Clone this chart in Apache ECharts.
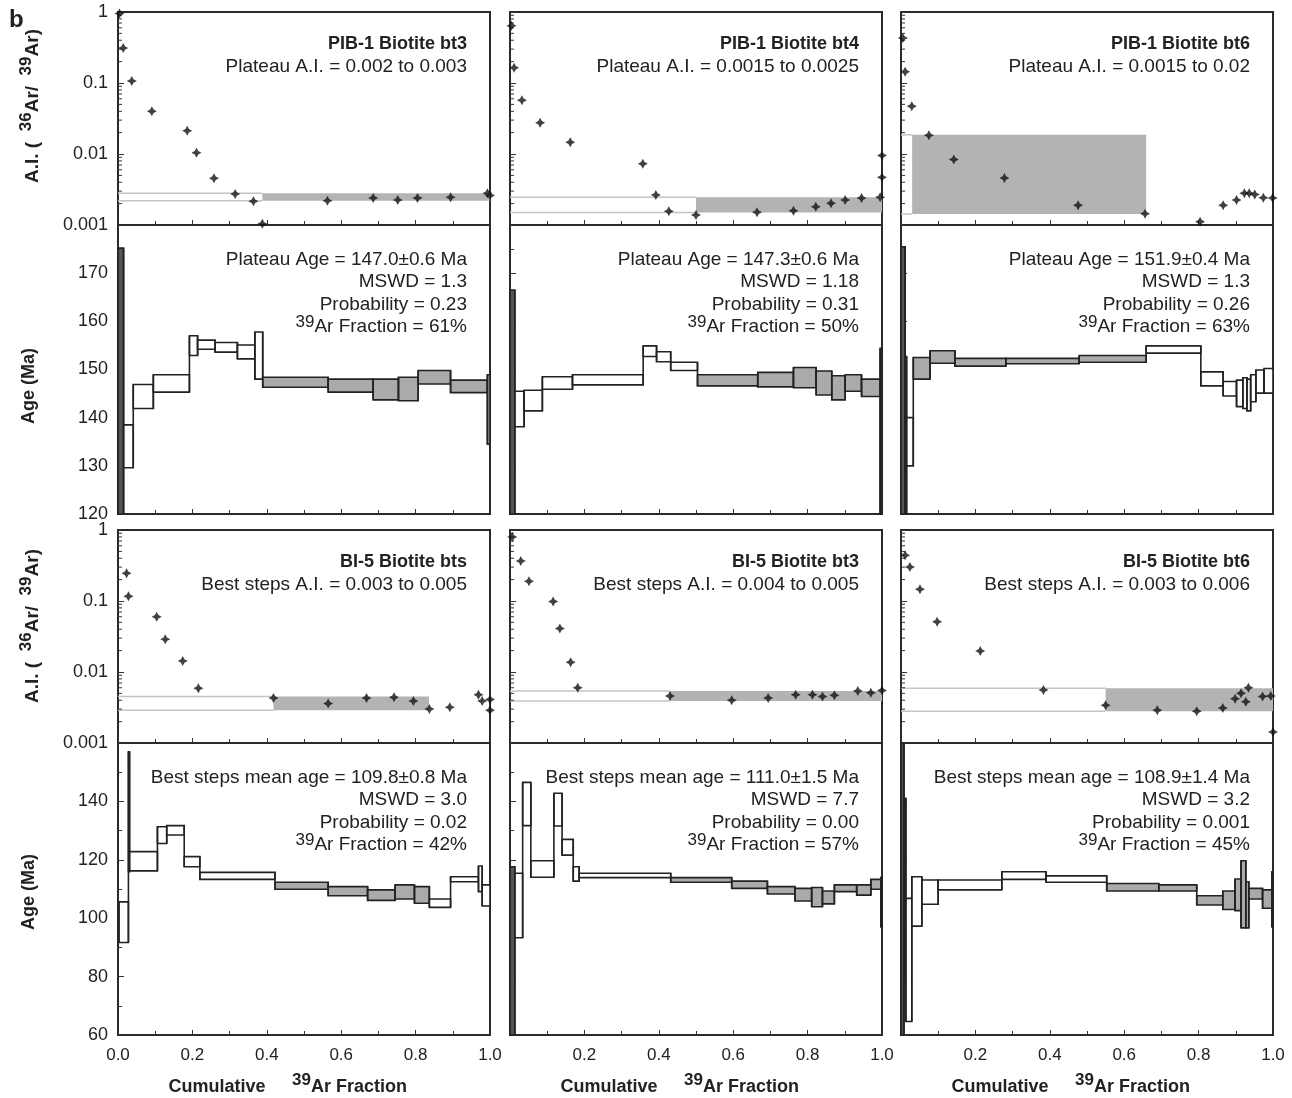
<!DOCTYPE html>
<html><head><meta charset="utf-8">
<script src="https://cdn.jsdelivr.net/npm/echarts@6/dist/echarts.min.js"></script>
<style>html,body{margin:0;padding:0;background:#fff}#c{width:1292px;height:1098px}</style>
</head><body><div id="c"></div>
<script>
// ---------- DATA ----------
const xTicks = [0, 0.2, 0.4, 0.6, 0.8, 1.0];
const aiTicks = [0.001, 0.01, 0.1, 1];
const ageTicksPIB = [120, 130, 140, 150, 160, 170, 180];
const ageTicksBI5 = [60, 80, 100, 120, 140, 160];

// A.I. scatter points [cumulative 39Ar fraction, 36Ar/39Ar]
const aiPIB_bt3 = [[0.004,0.95],[0.014,0.31],[0.037,0.107],[0.091,0.040],[0.186,0.0213],[0.211,0.0104],[0.258,0.00455],[0.315,0.00274],[0.364,0.00216],[0.388,0.00104],[0.563,0.0022],[0.686,0.0024],[0.752,0.00225],[0.805,0.0024],[0.894,0.00245],[0.993,0.0028],[1.0,0.0026]];
const aiPIB_bt4 = [[0.004,0.64],[0.011,0.164],[0.032,0.057],[0.081,0.0276],[0.162,0.0146],[0.357,0.0073],[0.392,0.00265],[0.427,0.00156],[0.5,0.00138],[0.664,0.00151],[0.762,0.00159],[0.822,0.00181],[0.863,0.00202],[0.901,0.00225],[0.945,0.0024],[0.995,0.00245],[1.0,0.0047],[1.0,0.0095]];
const aiPIB_bt6 = [[0.005,0.43],[0.011,0.144],[0.029,0.047],[0.075,0.0183],[0.142,0.0084],[0.278,0.0046],[0.476,0.0019],[0.656,0.00144],[0.804,0.00111],[0.866,0.0019],[0.902,0.00225],[0.923,0.0028],[0.936,0.0028],[0.951,0.00268],[0.974,0.00242],[0.999,0.0024]];
const aiBI5_bts = [[0.023,0.245],[0.028,0.117],[0.104,0.060],[0.127,0.029],[0.174,0.0143],[0.216,0.0059],[0.418,0.0043],[0.565,0.0036],[0.668,0.0043],[0.742,0.0044],[0.794,0.0039],[0.837,0.0030],[0.892,0.0032],[0.969,0.0048],[0.979,0.0039],[1.0,0.0041],[1.0,0.0029]];
const aiBI5_bt3 = [[0.006,0.8],[0.029,0.366],[0.051,0.19],[0.116,0.098],[0.134,0.041],[0.163,0.0137],[0.182,0.006],[0.43,0.0046],[0.596,0.0040],[0.694,0.0043],[0.768,0.0048],[0.813,0.0048],[0.84,0.0045],[0.872,0.0047],[0.935,0.0054],[0.97,0.0051],[1.0,0.0055]];
const aiBI5_bt6 = [[0.011,0.44],[0.024,0.30],[0.051,0.146],[0.097,0.051],[0.213,0.0198],[0.383,0.0056],[0.55,0.0034],[0.689,0.0029],[0.795,0.0028],[0.865,0.0031],[0.898,0.0042],[0.914,0.005],[0.927,0.0038],[0.934,0.006],[0.972,0.0045],[0.994,0.0046],[1.0,0.00143]];

// plateau / best-step A.I. band [x start, x end, A.I. low, A.I. high]
const bandPIB_bt3 = [0.388, 1.0, 0.0022, 0.0028];
const bandPIB_bt4 = [0.5, 1.0, 0.0015, 0.00245];
const bandPIB_bt6 = [0.03, 0.659, 0.00143, 0.0186];
const bandBI5_bts = [0.418, 0.836, 0.0029, 0.0045];
const bandBI5_bt3 = [0.43, 1.0, 0.0039, 0.0054];
const bandBI5_bt6 = [0.55, 1.0, 0.0028, 0.0059];

// age spectrum steps [x start, x end, age low, age high, kind(0 open,1 plateau,2 dark)]
const agePIB_bt3 = [[0,0.015,100,175.2,2],[0.015,0.041,129.6,138.5,0],[0.041,0.095,141.9,146.9,0],[0.095,0.192,145.3,148.9,0],[0.192,0.214,152.9,157.0,0],[0.214,0.261,154.2,156.1,0],[0.261,0.321,153.6,155.6,0],[0.321,0.368,152.2,155.1,0],[0.368,0.389,148.0,157.8,0],[0.389,0.565,146.3,148.4,1],[0.565,0.686,145.3,148.0,1],[0.686,0.754,143.7,148.0,1],[0.754,0.807,143.5,148.4,1],[0.807,0.894,147.0,149.8,1],[0.894,0.993,145.2,147.8,1],[0.993,1.0,134.5,148.9,1]];
const agePIB_bt4 = [[0,0.013,100,166.5,2],[0.013,0.038,138.1,145.5,0],[0.038,0.087,141.4,145.7,0],[0.087,0.168,145.9,148.5,0],[0.168,0.358,146.8,148.9,0],[0.358,0.394,152.7,154.9,0],[0.394,0.432,151.6,153.7,0],[0.432,0.504,149.8,151.5,0],[0.504,0.666,146.6,148.9,1],[0.666,0.762,146.4,149.4,1],[0.762,0.823,146.2,150.4,1],[0.823,0.865,144.7,149.7,1],[0.865,0.901,143.7,148.7,1],[0.901,0.945,145.5,148.9,1],[0.945,0.995,144.4,148.0,1],[0.995,1.0,100,154.4,2]];
const agePIB_bt6 = [[0,0.011,100,175.5,2],[0.011,0.015,100,152.7,2],[0.015,0.033,130.0,140.0,0],[0.033,0.078,148.0,152.5,1],[0.078,0.145,151.3,153.9,1],[0.145,0.282,150.7,152.3,1],[0.282,0.479,151.2,152.3,1],[0.479,0.659,151.5,152.9,1],[0.659,0.806,153.4,154.9,0],[0.806,0.866,146.6,149.5,0],[0.866,0.902,144.5,147.5,0],[0.902,0.919,142.3,147.8,0],[0.919,0.930,141.9,148.3,0],[0.930,0.940,141.4,148.0,0],[0.940,0.954,143.3,148.9,0],[0.954,0.976,145.1,149.9,0],[0.976,1.0,145.1,150.2,0]];
const ageBI5_bts = [[0.003,0.028,91.7,105.6,0],[0.028,0.031,115.9,157.0,2],[0.031,0.106,116.2,122.8,0],[0.106,0.131,125.6,131.3,0],[0.131,0.178,128.5,131.7,0],[0.178,0.220,117.6,121.1,0],[0.220,0.422,113.3,115.7,0],[0.422,0.565,109.9,112.3,1],[0.565,0.671,107.7,110.8,1],[0.671,0.745,106.1,109.7,1],[0.745,0.797,106.6,111.4,1],[0.797,0.837,105.1,110.8,1],[0.837,0.894,103.7,106.6,0],[0.894,0.969,112.5,114.2,0],[0.969,0.979,109.1,117.9,0],[0.979,1.0,104.2,111.4,0]];
const ageBI5_bt3 = [[0,0.013,50,117.6,2],[0.013,0.034,93.3,115.4,0],[0.034,0.056,131.7,146.5,0],[0.056,0.118,114.0,119.7,0],[0.118,0.140,131.6,142.8,0],[0.140,0.170,121.6,127.0,0],[0.170,0.186,112.7,117.6,0],[0.186,0.432,113.9,115.4,0],[0.432,0.596,112.3,113.9,1],[0.596,0.692,110.2,112.7,1],[0.692,0.766,108.3,110.8,1],[0.766,0.811,105.9,110.2,1],[0.811,0.840,103.9,110.5,1],[0.840,0.872,104.9,109.3,1],[0.872,0.932,109.1,111.4,1],[0.932,0.970,107.9,111.4,1],[0.970,0.997,109.9,113.3,1],[0.997,1.0,97,114,1]];
const ageBI5_bt6 = [[0,0.008,50,170,2],[0.008,0.013,78.8,141.1,2],[0.013,0.029,64.6,106.8,0],[0.029,0.056,97.3,114.2,0],[0.056,0.100,104.8,113.1,0],[0.100,0.271,109.7,113.1,0],[0.271,0.390,113.3,115.9,0],[0.390,0.553,112.3,114.5,0],[0.553,0.693,109.3,111.9,1],[0.693,0.795,109.3,111.4,1],[0.795,0.865,104.5,107.7,1],[0.865,0.898,103.0,109.3,1],[0.898,0.914,102.6,113.4,1],[0.914,0.927,96.7,119.7,1],[0.927,0.935,96.7,112.5,1],[0.935,0.972,106.6,110.2,1],[0.972,0.997,103.4,109.7,1],[0.997,1.0,97.0,115.9,2]];

// texts
const titles = ['PIB-1 Biotite bt3','PIB-1 Biotite bt4','PIB-1 Biotite bt6','BI-5 Biotite bts','BI-5 Biotite bt3','BI-5 Biotite bt6'];
const aiTexts = ['Plateau A.I. = 0.002 to 0.003','Plateau A.I. = 0.0015 to 0.0025','Plateau A.I. = 0.0015 to 0.02','Best steps A.I. = 0.003 to 0.005','Best steps A.I. = 0.004 to 0.005','Best steps A.I. = 0.003 to 0.006'];
const ageTexts = ['Plateau Age = 147.0±0.6 Ma','Plateau Age = 147.3±0.6 Ma','Plateau Age = 151.9±0.4 Ma','Best steps mean age = 109.8±0.8 Ma','Best steps mean age = 111.0±1.5 Ma','Best steps mean age = 108.9±1.4 Ma'];
const mswdTexts = ['1.3','1.18','1.3','3.0','7.7','3.2'];
const probTexts = ['0.23','0.31','0.26','0.02','0.00','0.001'];
const fracTexts = ['61%','50%','63%','42%','57%','45%'];

const aiSets = [aiPIB_bt3, aiPIB_bt4, aiPIB_bt6, aiBI5_bts, aiBI5_bt3, aiBI5_bt6];
const bandSets = [bandPIB_bt3, bandPIB_bt4, bandPIB_bt6, bandBI5_bts, bandBI5_bt3, bandBI5_bt6];
const ageSets = [agePIB_bt3, agePIB_bt4, agePIB_bt6, ageBI5_bts, ageBI5_bt3, ageBI5_bt6];

// ---------- LAYOUT ----------
const FONT = '"Liberation Sans", Arial, Helvetica, sans-serif';
const colLeft = [118, 510, 901];
const W = 372;
const rowsAI = [{top: 12, h: 213, tc: 106}, {top: 530, h: 213, tc: 626}];
const rowsAge = [{top: 225, h: 289, tc: 386}, {top: 743, h: 292, tc: 892}];
const FILL = ['#ffffff', '#aaaaaa', '#555555'];
const TXT = '#222';

const minorLog = [];
[0.001, 0.01, 0.1].forEach(d => { for (let k = 2; k <= 9; k++) minorLog.push([0, +(k * d).toPrecision(3)]); });

const mctx = document.createElement('canvas').getContext('2d');
function mw(t, f) { mctx.font = f; return mctx.measureText(t).width; }
// parts: [[text, isSup], ...] -> positioned pieces
function supLayout(parts, fontN, fontS, raise) {
  let x = 0; const items = [];
  parts.forEach(p => { const f = p[1] ? fontS : fontN; items.push({t: p[0], f: f, x: x, dy: p[1] ? -raise : 0}); x += mw(p[0], f); });
  return {items: items, width: x};
}
function textEl(x, y, t, f, align) {
  return {type: 'text', x: x, y: y, z: 100, style: {text: t, font: f, fill: TXT, textAlign: align, align: align, textVerticalAlign: 'middle', verticalAlign: 'middle'}};
}

function makeStepRender(arr) {
  return function (params, api) {
    const cs = params.coordSys;
    const box = {x: cs.x, y: cs.y, width: cs.width, height: cs.height};
    const d = arr[params.dataIndex];
    const p0 = api.coord([d[0], d[3]]);
    const p1 = api.coord([d[1], d[2]]);
    const children = [];
    const r = echarts.graphic.clipRectByRect({x: p0[0], y: p0[1], width: p1[0] - p0[0], height: p1[1] - p0[1]}, box);
    if (r) children.push({type: 'rect', shape: r, style: {fill: FILL[d[4]], stroke: '#222', lineWidth: 1.6}});
    const prev = arr[params.dataIndex - 1];
    if (prev && Math.abs(prev[1] - d[0]) < 1e-9) {
      const a = api.coord([d[0], Math.max(d[3], prev[3])]);
      const b = api.coord([d[0], Math.min(d[2], prev[2])]);
      const y1 = Math.max(a[1], cs.y), y2 = Math.min(b[1], cs.y + cs.height);
      if (y2 > y1) children.push({type: 'line', shape: {x1: a[0], y1: y1, x2: a[0], y2: y2}, style: {stroke: '#222', lineWidth: 1.6}});
    }
    return {type: 'group', children: children};
  };
}
function bandRender(params, api) {
  const x0 = api.value(0), x1 = api.value(1), lo = api.value(2), hi = api.value(3);
  const a = api.coord([x0, hi]), b = api.coord([x1, lo]), z = api.coord([0, hi]), zl = api.coord([0, lo]);
  return {type: 'group', children: [
    {type: 'rect', shape: {x: a[0], y: a[1], width: b[0] - a[0], height: b[1] - a[1]}, style: {fill: '#b3b3b3'}},
    {type: 'line', shape: {x1: z[0], y1: z[1], x2: a[0], y2: a[1]}, style: {stroke: '#c4c4c4', lineWidth: 1.5}},
    {type: 'line', shape: {x1: zl[0], y1: zl[1], x2: a[0], y2: b[1]}, style: {stroke: '#c4c4c4', lineWidth: 1.5}}
  ]};
}
function minorRender(params, api) {
  const p = api.coord([0, api.value(1)]);
  return {type: 'line', shape: {x1: p[0], y1: p[1], x2: p[0] + 4, y2: p[1]}, style: {stroke: '#333', lineWidth: 1}};
}

const grid = [], xAxis = [], yAxis = [], series = [], graphic = [];
const STAR = 'path://M0,-6 L2.1,-2.1 L6,0 L2.1,2.1 L0,6 L-2.1,2.1 L-6,0 L-2.1,-2.1 Z';

for (let pair = 0; pair < 2; pair++) {
  for (let col = 0; col < 3; col++) {
    const i = pair * 3 + col;
    const L = colLeft[col];
    // AI grid
    const gA = grid.length;
    grid.push({left: L, top: rowsAI[pair].top, width: W, height: rowsAI[pair].h, show: true, borderColor: '#2a2a2a', borderWidth: 2, backgroundColor: 'transparent', outerBoundsMode: 'none'});
    xAxis.push({gridIndex: gA, type: 'value', min: 0, max: 1, interval: 0.2, axisLine: {show: false}, splitLine: {show: false},
      axisTick: {show: true, inside: true, length: 5, lineStyle: {color: '#333'}}, minorTick: {show: true, splitNumber: 2, length: 4, lineStyle: {color: '#333'}}, axisLabel: {show: false}});
    yAxis.push({gridIndex: gA, type: 'log', logBase: 10, min: aiTicks[0], max: aiTicks[aiTicks.length - 1], axisLine: {show: false}, splitLine: {show: false},
      axisTick: {show: true, inside: true, length: 6, lineStyle: {color: '#333'}},
      axisLabel: {show: col === 0, fontSize: 18, color: TXT, fontFamily: FONT, margin: 10, formatter: v => String(+(+v).toPrecision(3))}});
    series.push({type: 'custom', xAxisIndex: gA, yAxisIndex: gA, renderItem: bandRender, data: [bandSets[i]], z: 1, silent: true});
    series.push({type: 'custom', xAxisIndex: gA, yAxisIndex: gA, renderItem: minorRender, data: minorLog, z: 2, silent: true});
    series.push({type: 'scatter', xAxisIndex: gA, yAxisIndex: gA, data: aiSets[i], symbol: STAR, symbolSize: 10, itemStyle: {color: '#111'}, z: 5, silent: true});

    // Age grid
    const gB = grid.length;
    const ticks = pair === 0 ? ageTicksPIB : ageTicksBI5;
    grid.push({left: L, top: rowsAge[pair].top, width: W, height: rowsAge[pair].h, show: true, borderColor: '#2a2a2a', borderWidth: 2, backgroundColor: 'transparent', outerBoundsMode: 'none'});
    xAxis.push({gridIndex: gB, type: 'value', min: 0, max: 1, interval: 0.2, axisLine: {show: false}, splitLine: {show: false},
      axisTick: {show: true, inside: true, length: 5, lineStyle: {color: '#333'}}, minorTick: {show: true, splitNumber: 2, length: 4, lineStyle: {color: '#333'}},
      axisLabel: {show: pair === 1, fontSize: 17, color: TXT, fontFamily: FONT, margin: 12, showMaxLabel: true,
        formatter: v => (col > 0 && v === 0) ? '' : v.toFixed(1)}});
    yAxis.push({gridIndex: gB, type: 'value', min: ticks[0], max: ticks[ticks.length - 1], interval: ticks[1] - ticks[0], axisLine: {show: false}, splitLine: {show: false},
      axisTick: {show: true, inside: true, length: 6, lineStyle: {color: '#333'}}, minorTick: {show: true, splitNumber: 2, length: 4, lineStyle: {color: '#333'}},
      axisLabel: {show: col === 0, fontSize: 18, color: TXT, fontFamily: FONT, margin: 10, showMaxLabel: false}});
    series.push({type: 'custom', xAxisIndex: gB, yAxisIndex: gB, renderItem: makeStepRender(ageSets[i]), data: ageSets[i], z: 3, silent: true});

    // panel texts
    const RX = L + 349;
    const tA = rowsAI[pair].top, tB = rowsAge[pair].top;
    graphic.push(textEl(RX, tA + 32, titles[i], 'bold 18px ' + FONT, 'right'));
    graphic.push(textEl(RX, tA + 55, aiTexts[i], '19px ' + FONT, 'right'));
    graphic.push(textEl(RX, tB + 35, ageTexts[i], '19px ' + FONT, 'right'));
    graphic.push(textEl(RX, tB + 57, 'MSWD = ' + mswdTexts[i], '19px ' + FONT, 'right'));
    graphic.push(textEl(RX, tB + 80, 'Probability = ' + probTexts[i], '19px ' + FONT, 'right'));
    const fr = supLayout([['39', true], ['Ar Fraction = ' + fracTexts[i], false]], '19px ' + FONT, '17px ' + FONT, 5);
    fr.items.forEach(it => graphic.push(textEl(RX - fr.width + it.x, tB + 102 + it.dy, it.t, it.f, 'left')));

    if (pair === 1) {
      graphic.push(textEl(L + 99, 1087, 'Cumulative', 'bold 18px ' + FONT, 'center'));
      const xt = supLayout([['39', true], ['Ar Fraction', false]], 'bold 18px ' + FONT, 'bold 17px ' + FONT, 7);
      xt.items.forEach(it => graphic.push(textEl(L + 174 + it.x, 1087 + it.dy, it.t, it.f, 'left')));
    }
  }
}

// axis titles (rotated)
rowsAI.forEach(r => {
  const lay = supLayout([['A.I. (  ', false], ['36', true], ['Ar/  ', false], ['39', true], ['Ar)', false]], 'bold 19px ' + FONT, 'bold 17px ' + FONT, 7);
  graphic.push({type: 'group', x: 33, y: r.tc, rotation: Math.PI / 2, z: 100,
    children: lay.items.map(it => ({type: 'text', x: it.x - lay.width / 2, y: it.dy, z: 100, style: {text: it.t, font: it.f, fill: TXT, textAlign: 'left', align: 'left', textVerticalAlign: 'middle', verticalAlign: 'middle'}}))});
});
rowsAge.forEach(r => {
  graphic.push({type: 'text', x: 29, y: r.tc, rotation: Math.PI / 2, z: 100, style: {text: 'Age (Ma)', font: 'bold 18px ' + FONT, fill: TXT, textAlign: 'center', align: 'center', textVerticalAlign: 'middle', verticalAlign: 'middle'}});
});
graphic.push({type: 'text', x: 9, y: 8, z: 100, style: {text: 'b', font: 'bold 24px ' + FONT, fill: TXT}});

const chart = echarts.init(document.getElementById('c'), null, {renderer: 'canvas'});
chart.setOption({
  animation: false,
  backgroundColor: '#fff',
  textStyle: {fontFamily: FONT},
  grid: grid, xAxis: xAxis, yAxis: yAxis, series: series, graphic: graphic
});
</script></body></html>
